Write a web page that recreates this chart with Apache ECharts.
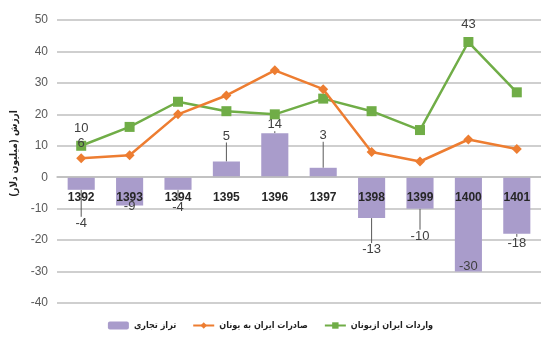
<!DOCTYPE html>
<html>
<head>
<meta charset="utf-8">
<script src="https://cdn.jsdelivr.net/npm/echarts@6/dist/echarts.min.js"></script>
<style>
  html, body { margin: 0; padding: 0; background: #fff; }
  #chart { width: 541px; height: 342px; }
</style>
</head>
<body>
<div id="chart"></div>
<script>
// Iran – Greece trade, million dollars, by Iranian year
const years = ['1392', '1393', '1394', '1395', '1396', '1397', '1398', '1399', '1400', '1401'];
const tradeBalance = [-4, -9, -4, 5, 14, 3, -13, -10, -30, -18];
const exportsToGreece = [6, 7, 20, 26, 34, 28, 8, 5, 12, 9];
const importsFromGreece = [10, 16, 24, 21, 20, 25, 21, 15, 43, 27];
const yTicks = [-40, -30, -20, -10, 0, 10, 20, 30, 40, 50];

const seriesNames = ['تراز تجاری', 'صادرات ایران به یونان', 'واردات ایران ازیونان'];
const axisTitle = 'ارزش (میلیون دلار)';

// which points carry a value label on the two lines
const exportLabelIdx = [0];
const importLabelIdx = [0, 8];

// vertical nudge for each bar label, so they sit clear of lines and ticks
const barLabelShift = [22, -11, 6, -14, 3, -21, 20, 16, -17, -2];

const numFont = '"Liberation Sans", Arial, sans-serif';
const faFont = '"DejaVu Sans Condensed", "DejaVu Sans", sans-serif';

const gridTop = 20, gridBottom = 39, chartH = 342;
const plotH = chartH - gridTop - gridBottom;
const yMin = yTicks[0], yMax = yTicks[yTicks.length - 1];
// category labels run along the zero line rather than the bottom edge
const zeroLift = plotH * (0 - yMin) / (yMax - yMin);

const chart = echarts.init(document.getElementById('chart'));
chart.setOption({
  animation: false,
  backgroundColor: '#ffffff',
  grid: { left: 57, right: 0, top: gridTop, bottom: gridBottom },
  legend: {
    bottom: 7,
    left: 'center',
    itemGap: 16,
    itemWidth: 21,
    itemHeight: 8,
    textStyle: { fontFamily: faFont, fontSize: 9, fontWeight: 'bold', color: '#222' },
    data: seriesNames
  },
  xAxis: {
    type: 'category',
    data: years,
    offset: -zeroLift,
    axisLine: { show: true, onZero: false, lineStyle: { color: '#bfbfbf', width: 1.5 } },
    axisTick: { show: false },
    axisLabel: { margin: 14, fontFamily: numFont, fontSize: 12, fontWeight: 'bold', color: '#262626' },
    z: 5
  },
  yAxis: {
    type: 'value',
    min: yMin,
    max: yMax,
    interval: 10,
    name: axisTitle,
    nameLocation: 'middle',
    nameRotate: 90,
    nameGap: 37,
    nameTextStyle: { fontFamily: faFont, fontSize: 10, color: '#222', fontWeight: 'bold', padding: [0, 0, 0, 16] },
    axisLine: { show: false },
    axisTick: { show: false },
    axisLabel: { margin: 9, fontFamily: numFont, fontSize: 12, color: '#595959' },
    splitLine: { lineStyle: { color: '#bfbfbf', width: 1.5 } }
  },
  series: [
    {
      name: seriesNames[0],
      type: 'bar',
      barWidth: '56%',
      itemStyle: { color: '#a99ccb' },
      data: tradeBalance.map(v => ({
        value: v,
        label: { position: v >= 0 ? 'top' : 'bottom' }
      })),
      label: {
        show: true,
        fontFamily: numFont,
        fontSize: 13,
        color: '#404040'
      },
      labelLine: { show: true, lineStyle: { color: '#595959', width: 1 } },
      labelLayout: p => ({ dy: barLabelShift[p.dataIndex] }),
      z: 2
    },
    {
      name: seriesNames[1],
      type: 'line',
      symbol: 'diamond',
      symbolSize: 10,
      lineStyle: { color: '#ed7d31', width: 2.5 },
      itemStyle: { color: '#ed7d31' },
      data: exportsToGreece.map((v, i) => ({
        value: v,
        label: { show: exportLabelIdx.includes(i) }
      })),
      label: { position: 'top', distance: 3, fontFamily: numFont, fontSize: 13, color: '#404040' },
      z: 4
    },
    {
      name: seriesNames[2],
      type: 'line',
      symbol: 'rect',
      symbolSize: 10,
      lineStyle: { color: '#70ad47', width: 2.5 },
      itemStyle: { color: '#70ad47' },
      data: importsFromGreece.map((v, i) => ({
        value: v,
        label: { show: importLabelIdx.includes(i) }
      })),
      label: { position: 'top', distance: 6, fontFamily: numFont, fontSize: 13, color: '#404040' },
      z: 3
    }
  ]
});
</script>
</body>
</html>
